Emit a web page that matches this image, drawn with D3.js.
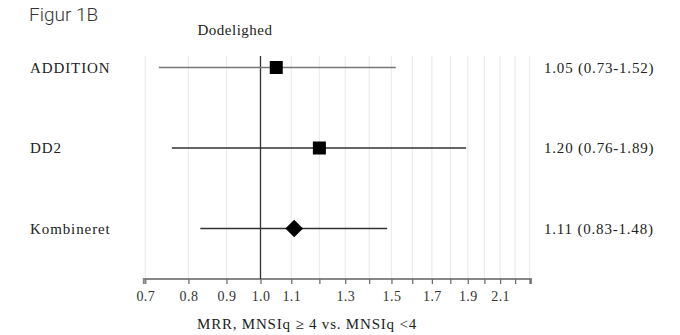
<!DOCTYPE html>
<html>
<head>
<meta charset="utf-8">
<script src="https://cdn.jsdelivr.net/npm/d3@7"></script>
<style>
  html, body { margin: 0; padding: 0; background: #fff; }
  svg text { fill: #222; }
  .serif { font-family: "Liberation Serif", "DejaVu Serif", serif; }
</style>
</head>
<body>
<div id="chart"></div>
<script>
// Studies and their mortality rate ratios (MRR) with 95% CI
const studies = ["ADDITION", "DD2", "Kombineret"];
const estimates = [1.05, 1.20, 1.11];
const lower = [0.73, 0.76, 0.83];
const upper = [1.52, 1.89, 1.48];
const ciLabels = ["1.05 (0.73-1.52)", "1.20 (0.76-1.89)", "1.11 (0.83-1.48)"];

// Axis ticks (log scale); only some of them get a label
const tickValues = [0.7, 0.8, 0.9, 1.0, 1.1, 1.2, 1.3, 1.4, 1.5, 1.6, 1.7, 1.8, 1.9, 2.0, 2.1, 2.2, 2.3];
const labelledTicks = ["0.7", "0.8", "0.9", "1.0", "1.1", "1.3", "1.5", "1.7", "1.9", "2.1"];

const width = 680, height = 335;

const svg = d3.select("#chart")
  .append("svg")
  .attr("width", width)
  .attr("height", height);

// Log x scale
const x = d3.scaleLog().domain([0.7, 2.3]).range([145.3, 529.5]);

// Rows
const y = d3.scalePoint().domain(studies).range([67.5, 228.5]);

const axisY = 279;
const gridTop = 56;

// Gridlines
svg.append("g")
  .selectAll("line")
  .data(tickValues)
  .enter()
  .append("line")
  .attr("x1", d => x(d))
  .attr("x2", d => x(d))
  .attr("y1", gridTop)
  .attr("y2", axisY)
  .attr("stroke", "#ececec")
  .attr("stroke-width", 1.2);

// X axis
const xAxis = d3.axisBottom(x)
  .tickValues(tickValues)
  .tickSize(5)
  .tickFormat(d => {
    const s = d3.format(".1f")(d);
    return labelledTicks.includes(s) ? s : "";
  });

const gx = svg.append("g")
  .attr("transform", "translate(0," + axisY + ")")
  .call(xAxis);

gx.select(".domain")
  .attr("d", "M" + (x(0.7) - 1.5) + ",5V0H" + (x(2.3) + 1.5) + "V5")
  .attr("stroke", "#888")
  .attr("stroke-width", 2);
gx.selectAll(".tick line").attr("stroke", "#666").attr("stroke-width", 1.2);
gx.selectAll(".tick text")
  .attr("class", "serif")
  .attr("y", 12)
  .style("font-size", "14px")
  .style("letter-spacing", "0.4px")
  .style("fill", "#333");

// Reference line at 1
svg.append("line")
  .attr("x1", x(1)).attr("x2", x(1))
  .attr("y1", gridTop).attr("y2", axisY)
  .attr("stroke", "#333")
  .attr("stroke-width", 1.3);

// Confidence intervals
svg.append("g")
  .selectAll("line")
  .data(studies)
  .enter()
  .append("line")
  .attr("x1", (d, i) => x(lower[i]))
  .attr("x2", (d, i) => x(upper[i]))
  .attr("y1", d => y(d))
  .attr("y2", d => y(d))
  .attr("stroke", (d, i) => i === 0 ? "#777" : "#333")
  .attr("stroke-width", 1.6);

// Point estimates: squares for single studies, diamond for combined
const marks = svg.append("g");
studies.forEach((s, i) => {
  const cx = x(estimates[i]), cy = y(s);
  if (i === studies.length - 1) {
    marks.append("path")
      .attr("d", d3.symbol().type(d3.symbolDiamond2).size(200)())
      .attr("transform", "translate(" + cx + "," + cy + ")")
      .attr("fill", "#000");
  } else {
    marks.append("rect")
      .attr("x", cx - 6.5)
      .attr("y", cy - 6.5)
      .attr("width", 13)
      .attr("height", 13)
      .attr("fill", "#000");
  }
});

// Study labels
svg.append("g")
  .selectAll("text")
  .data(studies)
  .enter()
  .append("text")
  .attr("class", "serif")
  .attr("x", 30)
  .attr("y", d => y(d) + 5)
  .style("font-size", "15px")
  .style("letter-spacing", "0.9px")
  .text(d => d);

// Estimate labels
svg.append("g")
  .selectAll("text")
  .data(ciLabels)
  .enter()
  .append("text")
  .attr("class", "serif")
  .attr("x", 544)
  .attr("y", (d, i) => y(studies[i]) + 5)
  .style("font-size", "15px")
  .style("letter-spacing", "0.8px")
  .text(d => d);

// Panel title
svg.append("text")
  .attr("class", "serif")
  .attr("x", 235)
  .attr("y", 35)
  .attr("text-anchor", "middle")
  .style("font-size", "15px")
  .style("letter-spacing", "0.5px")
  .text("Dodelighed");

// Axis title
svg.append("text")
  .attr("class", "serif")
  .attr("x", 307)
  .attr("y", 329)
  .attr("text-anchor", "middle")
  .style("font-size", "15px")
  .style("letter-spacing", "0.8px")
  .text("MRR, MNSIq \u2265 4 vs. MNSIq <4");

// Figure label
svg.append("text")
  .attr("x", 29)
  .attr("y", 21)
  .style("font-family", "Roboto, sans-serif")
  .style("font-weight", "300")
  .style("font-size", "19px")
  .style("fill", "#333")
  .text("Figur 1B");
</script>
</body>
</html>
